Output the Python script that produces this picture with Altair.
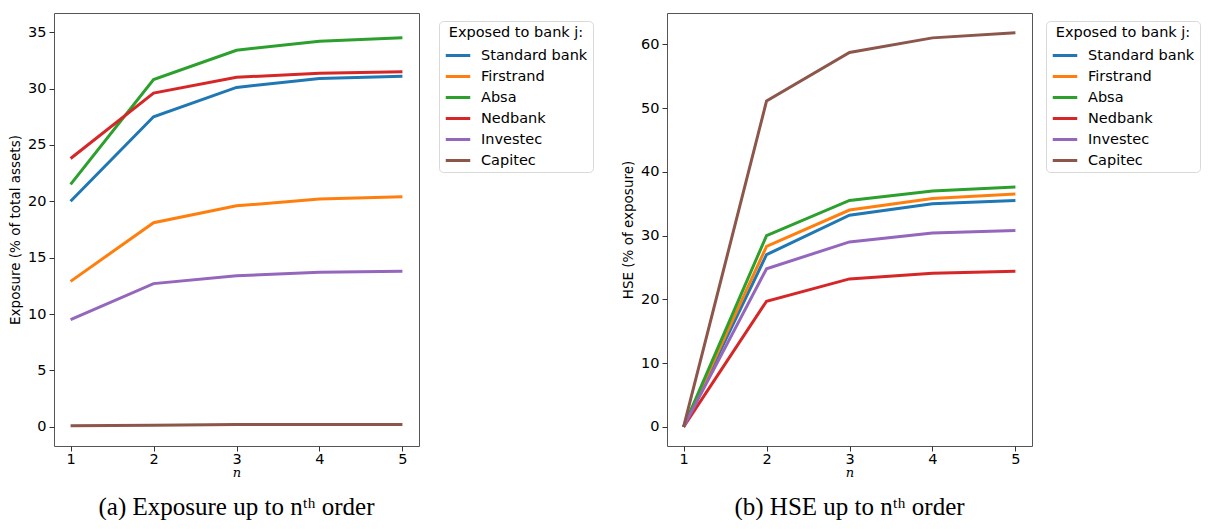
import altair as alt
import pandas as pd

orders = [1, 2, 3, 4, 5]
banks = ["Standard bank", "Firstrand", "Absa", "Nedbank", "Investec", "Capitec"]
colors = ["#1f77b4", "#ff7f0e", "#2ca02c", "#d62728", "#9467bd", "#8c564b"]

exposure_standard = [20.0, 27.5, 30.1, 30.9, 31.1]
exposure_firstrand = [12.9, 18.1, 19.6, 20.2, 20.4]
exposure_absa = [21.5, 30.8, 33.4, 34.2, 34.5]
exposure_nedbank = [23.8, 29.6, 31.0, 31.35, 31.5]
exposure_investec = [9.5, 12.7, 13.4, 13.7, 13.8]
exposure_capitec = [0.1, 0.15, 0.2, 0.2, 0.2]

hse_standard = [0.0, 27.0, 33.2, 35.0, 35.5]
hse_firstrand = [0.0, 28.3, 34.0, 35.8, 36.5]
hse_absa = [0.0, 30.0, 35.5, 37.0, 37.6]
hse_nedbank = [0.0, 19.7, 23.2, 24.1, 24.4]
hse_investec = [0.0, 24.8, 29.0, 30.4, 30.8]
hse_capitec = [0.0, 51.1, 58.7, 61.0, 61.8]

exposure = [exposure_standard, exposure_firstrand, exposure_absa,
            exposure_nedbank, exposure_investec, exposure_capitec]
hse = [hse_standard, hse_firstrand, hse_absa, hse_nedbank, hse_investec, hse_capitec]


def long_df(series):
    rows = []
    for b, vals in zip(banks, series):
        for n, v in zip(orders, vals):
            rows.append({"bank": b, "n": n, "value": v})
    return pd.DataFrame(rows)


def panel(df, ydomain, ytitle, caption, yvalues, legend_x):
    return alt.Chart(df).mark_line(strokeWidth=3, clip=True).encode(
        x=alt.X("n:Q", scale=alt.Scale(domain=[0.8, 5.2], nice=False, zero=False),
                axis=alt.Axis(values=orders, format="d", title="n", labelPadding=1,
                              titleFontStyle="italic", titleFont="DejaVu Serif",
                              titleFontWeight="normal", titleFontSize=13, titlePadding=1)),
        y=alt.Y("value:Q", scale=alt.Scale(domain=ydomain, nice=False, zero=False),
                axis=alt.Axis(values=yvalues, title=ytitle, titleFontWeight="normal",
                              titleFontSize=13.5, titlePadding=5, labelPadding=3)),
        color=alt.Color("bank:N", sort=banks,
                        scale=alt.Scale(domain=banks, range=colors),
                        legend=alt.Legend(title="Exposed to bank j:", orient="none",
                                          legendX=legend_x, legendY=8,
                                          symbolType="stroke", symbolStrokeWidth=3,
                                          symbolSize=600, labelFontSize=14.5, titleFontSize=14.5,
                                          titleFontWeight="normal", labelLimit=300,
                                          strokeColor="#d9d9d9", cornerRadius=4, padding=5,
                                          fillColor="white", rowPadding=-2.4,
                                          titlePadding=1, labelOffset=9, titleAnchor="middle")),
        order=alt.Order("bank:N"),
    ).properties(
        width=365, height=433,
        title=alt.TitleParams(caption, orient="bottom", font="Liberation Serif",
                              fontSize=25, fontWeight="normal", offset=15, anchor="middle",
                              color="black"),
    )


left = panel(long_df(exposure), [-1.7, 36.7], "Exposure (% of total assets)",
             "(a) Exposure up to nᵗʰ order", [0, 5, 10, 15, 20, 25, 30, 35], 385)
right = panel(long_df(hse), [-3.0, 64.9], "HSE (% of exposure)",
              "(b) HSE up to nᵗʰ order", [0, 10, 20, 30, 40, 50, 60], 379)

chart = alt.hconcat(left, right, spacing=27).resolve_scale(color="independent").configure_view(
    stroke="#555555", strokeWidth=1
).configure_axis(
    labelFontSize=14.5, labelFont="DejaVu Sans", titleFont="DejaVu Sans",
    tickColor="#333333", domainColor="black", labelColor="black", titleColor="black",
    tickSize=5, grid=False, domain=False
).configure_legend(
    labelFont="DejaVu Sans", titleFont="DejaVu Sans", labelColor="black", titleColor="black"
).properties(
    padding={"left": 0, "top": 4, "right": 0, "bottom": 0}
)

chart.save("out.html", embed_options={"renderer": "svg", "actions": False})
